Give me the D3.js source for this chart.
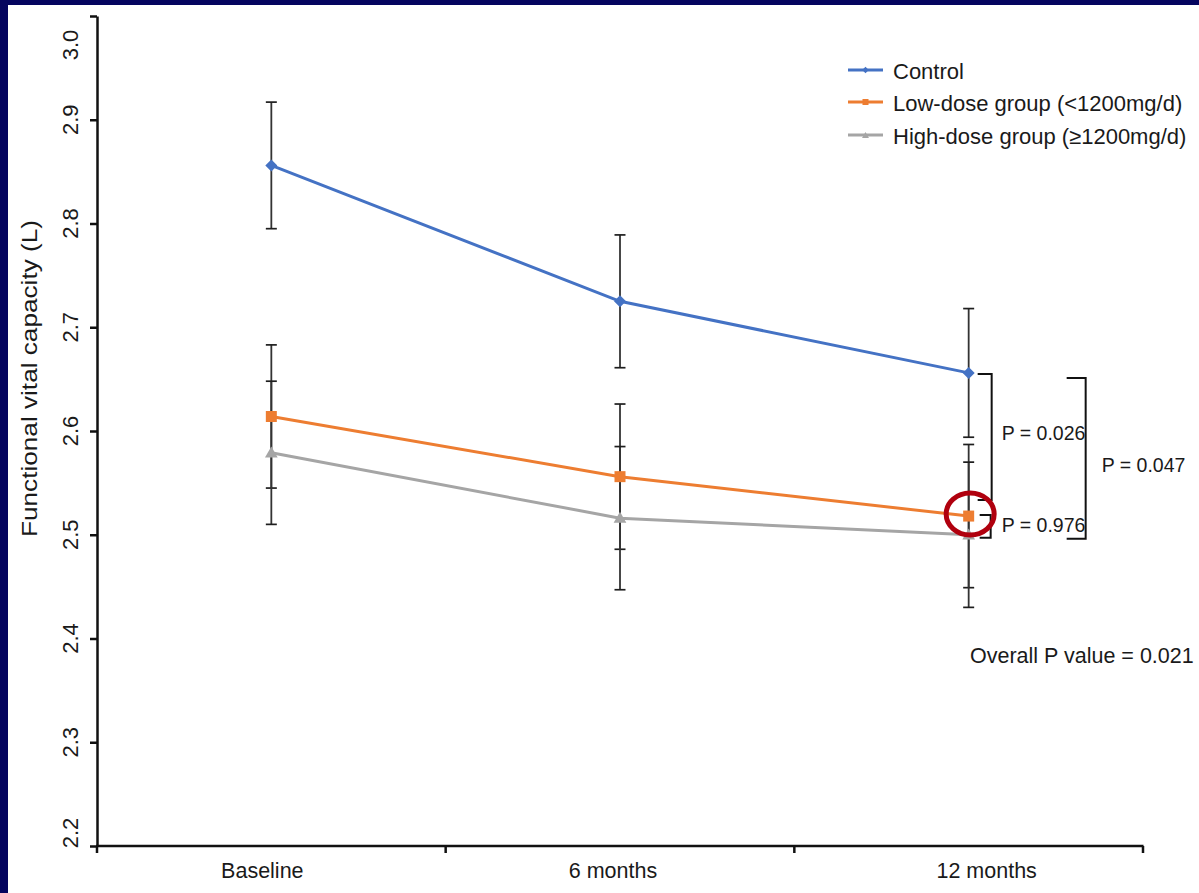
<!DOCTYPE html>
<html>
<head>
<meta charset="utf-8">
<script src="https://cdn.jsdelivr.net/npm/d3@7"></script>
<style>
  html, body { margin: 0; padding: 0; background: #fff; }
  svg { display: block; font-family: "Liberation Sans", Arial, sans-serif; }
</style>
</head>
<body>
<svg id="chart" width="1199" height="893"></svg>
<script>
// ---- data ----
const categories = ["Baseline", "6 months", "12 months"];
const seriesNames = ["Control", "Low-dose group (<1200mg/d)", "High-dose group (\u22651200mg/d)"];
const controlValues = [2.856, 2.725, 2.656];
const controlErrors = [0.061, 0.064, 0.062];
const lowDoseValues = [2.614, 2.556, 2.518];
const lowDoseErrors = [0.069, 0.070, 0.069];
const highDoseValues = [2.579, 2.516, 2.500];
const highDoseErrors = [0.069, 0.069, 0.070];
const yTickValues = [2.2, 2.3, 2.4, 2.5, 2.6, 2.7, 2.8, 2.9, 3.0];
const yTickLabels = ["2.2", "2.3", "2.4", "2.5", "2.6", "2.7", "2.8", "2.9", "3.0"];
const yTitle = "Functional vital capacity (L)";
const pLabels = ["P = 0.026", "P = 0.976", "P = 0.047"];
const overallLabel = "Overall P value = 0.021";

// ---- setup ----
const W = 1199, H = 893;
const svg = d3.select("#chart");
svg.append("rect").attr("width", W).attr("height", H).attr("fill", "#05055f");
svg.append("rect").attr("x", 8).attr("y", 5).attr("width", W - 8).attr("height", H - 5).attr("fill", "#ffffff");

const x = d3.scaleBand().domain(categories).range([97, 1143]).paddingInner(0).paddingOuter(0);
const y = d3.scaleLinear().domain([2.2, 3.0]).range([846, 16]);
const cx = c => x(c) + x.bandwidth() / 2;

const series = [
  { name: seriesNames[0], values: controlValues, errors: controlErrors, color: "#4472C4", symbol: "diamond" },
  { name: seriesNames[1], values: lowDoseValues, errors: lowDoseErrors, color: "#ED7D31", symbol: "square" },
  { name: seriesNames[2], values: highDoseValues, errors: highDoseErrors, color: "#A5A5A5", symbol: "triangle" }
];

function symbolPath(kind, scale) {
  if (kind === "diamond") return d3.symbol(d3.symbolSquare, 72 * scale)();
  if (kind === "square") return d3.symbol(d3.symbolSquare, 121 * scale)();
  return d3.symbol(d3.symbolTriangle, 70 * scale)();
}
function symbolTransform(kind, px, py) {
  return kind === "diamond" ? `translate(${px},${py}) rotate(45)` : `translate(${px},${py + (kind === "triangle" ? 1 : 0)})`;
}

// ---- axes ----
const yAxis = d3.axisLeft(y).tickValues(yTickValues).tickSize(7).tickSizeOuter(0).tickFormat(() => "");
const gy = svg.append("g").attr("transform", "translate(97,0)").call(yAxis);
gy.select(".domain").attr("stroke", "#111").attr("stroke-width", 2.5);
gy.selectAll(".tick line").attr("stroke", "#111").attr("stroke-width", 2.5);
svg.append("g").selectAll("text").data(yTickValues).join("text")
  .attr("transform", (d) => `translate(78,${Math.min(833, Math.max(45, y(d)))}) rotate(-90)`)
  .attr("text-anchor", "middle")
  .attr("font-size", 22)
  .attr("fill", "#1a1a1a")
  .text((d, i) => yTickLabels[i]);

// x axis with boundary ticks
svg.append("line").attr("x1", 96).attr("x2", 1143.5).attr("y1", y(2.2)).attr("y2", y(2.2))
  .attr("stroke", "#111").attr("stroke-width", 2.5);
const boundaries = categories.map(c => x(c)).concat([x(categories[categories.length - 1]) + x.bandwidth()]);
svg.append("g").selectAll("line").data(boundaries).join("line")
  .attr("x1", d => d).attr("x2", d => d).attr("y1", y(2.2)).attr("y2", y(2.2) + 7)
  .attr("stroke", "#111").attr("stroke-width", 2.5);
const xLabelShift = [-9, -7, 18];
svg.append("g").selectAll("text").data(categories).join("text")
  .attr("x", (d, i) => cx(d) + xLabelShift[i]).attr("y", 878)
  .attr("text-anchor", "middle").attr("font-size", 21.5).attr("fill", "#1a1a1a")
  .text(d => d);

// y title
svg.append("text")
  .attr("transform", "translate(37,378.5) rotate(-90)")
  .attr("text-anchor", "middle")
  .attr("font-size", 22)
  .attr("textLength", 317)
  .attr("lengthAdjust", "spacingAndGlyphs")
  .attr("fill", "#1a1a1a")
  .text(yTitle);

// ---- error bars ----
const eg = svg.append("g");
series.forEach(s => {
  s.values.forEach((v, i) => {
    const px = cx(categories[i]);
    const e = s.errors[i];
    eg.append("line").attr("x1", px).attr("x2", px).attr("y1", y(v + e)).attr("y2", y(v - e))
      .attr("stroke", "#333").attr("stroke-width", 1.8);
    [v + e, v - e].forEach(b => {
      eg.append("line").attr("x1", px - 5.5).attr("x2", px + 5.5).attr("y1", y(b)).attr("y2", y(b))
        .attr("stroke", "#1e1e1e").attr("stroke-width", 1.7);
    });
  });
});

// ---- lines and markers ----
const line = d3.line().x((d, i) => cx(categories[i])).y(d => y(d));
series.forEach(s => {
  svg.append("path").datum(s.values).attr("d", line)
    .attr("fill", "none").attr("stroke", s.color).attr("stroke-width", 3);
});
series.forEach(s => {
  svg.append("g").selectAll("path").data(s.values).join("path")
    .attr("d", symbolPath(s.symbol, 1))
    .attr("transform", (d, i) => symbolTransform(s.symbol, cx(categories[i]), y(d)))
    .attr("fill", s.color);
});

// ---- legend ----
const legendY = [70, 102, 135];
const lg = svg.append("g");
series.forEach((s, i) => {
  lg.append("line").attr("x1", 848).attr("x2", 883).attr("y1", legendY[i]).attr("y2", legendY[i])
    .attr("stroke", s.color).attr("stroke-width", 3);
  lg.append("path").attr("d", symbolPath(s.symbol, 0.3))
    .attr("transform", symbolTransform(s.symbol, 865.5, legendY[i]))
    .attr("fill", s.color);
  lg.append("text").attr("x", 893).attr("y", legendY[i] + 8.5)
    .attr("font-size", 22).attr("fill", "#1a1a1a").text(s.name);
});

// ---- significance brackets ----
const x12 = cx(categories[2]);
function bracket(xl, xr, yTop, yBot) {
  svg.append("path")
    .attr("d", `M${xl},${yTop}H${xr}V${yBot}H${xl}`)
    .attr("fill", "none").attr("stroke", "#111").attr("stroke-width", 2);
}
bracket(x12 + 9, x12 + 23, y(controlValues[2]) + 1, y(lowDoseValues[2]) - 16);
bracket(x12 + 11, x12 + 22, y(lowDoseValues[2]) - 1, y(highDoseValues[2]) + 3);
bracket(x12 + 98, x12 + 117, y(controlValues[2]) + 5, y(highDoseValues[2]) + 4);

svg.append("text").attr("x", x12 + 33).attr("y", 440).attr("font-size", 19.5).attr("fill", "#1a1a1a").text(pLabels[0]);
svg.append("text").attr("x", x12 + 33).attr("y", 532).attr("font-size", 19.5).attr("fill", "#1a1a1a").text(pLabels[1]);
svg.append("text").attr("x", x12 + 133).attr("y", 472).attr("font-size", 19.5).attr("fill", "#1a1a1a").text(pLabels[2]);
svg.append("text").attr("x", 970).attr("y", 663).attr("font-size", 21.5).attr("fill", "#1a1a1a").text(overallLabel);

// ---- highlight ellipse ----
svg.append("ellipse")
  .attr("cx", cx(categories[2]) + 1.5).attr("cy", y(lowDoseValues[2]) - 2)
  .attr("rx", 24).attr("ry", 21)
  .attr("fill", "none").attr("stroke", "#B0000E").attr("stroke-width", 5);
</script>
</body>
</html>
